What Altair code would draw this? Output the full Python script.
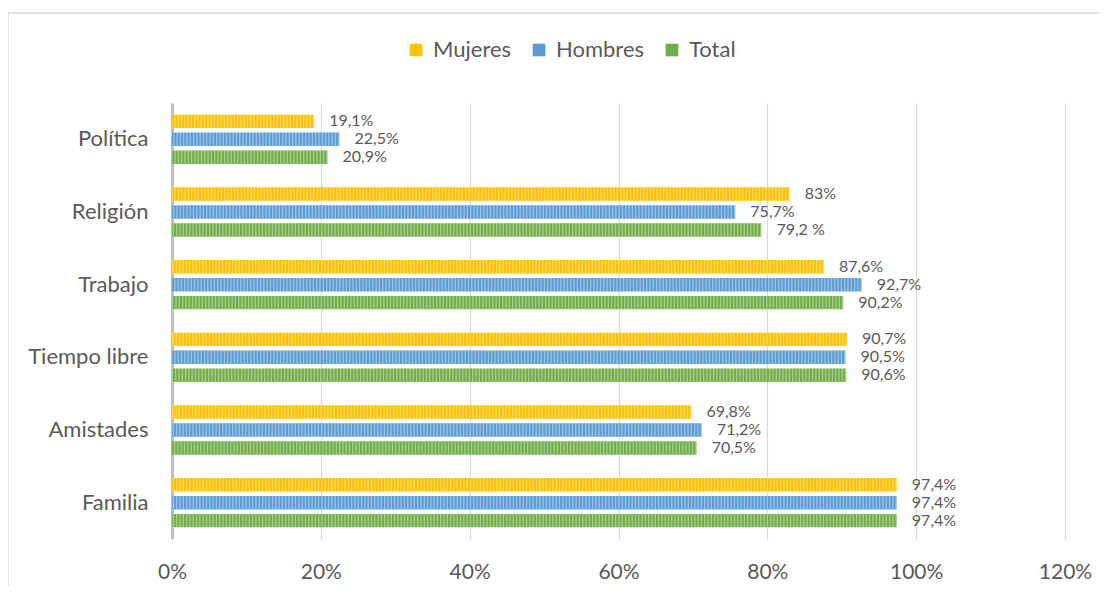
import altair as alt
import pandas as pd

categories = ["Política", "Religión", "Trabajo", "Tiempo libre", "Amistades", "Familia"]
series = ["Mujeres", "Hombres", "Total"]
mujeres = [19.1, 83.0, 87.6, 90.7, 69.8, 97.4]
hombres = [22.5, 75.7, 92.7, 90.5, 71.2, 97.4]
total = [20.9, 79.2, 90.2, 90.6, 70.5, 97.4]
lab_mujeres = ["19,1%", "83%", "87,6%", "90,7%", "69,8%", "97,4%"]
lab_hombres = ["22,5%", "75,7%", "92,7%", "90,5%", "71,2%", "97,4%"]
lab_total = ["20,9%", "79,2 %", "90,2%", "90,6%", "70,5%", "97,4%"]
x_ticks = [0, 20, 40, 60, 80, 100, 120]
colors = ["#FFC000", "#5B9BD5", "#70AD47"]

rows = []
for s, vals, labs in zip(series, [mujeres, hombres, total], [lab_mujeres, lab_hombres, lab_total]):
    for c, v, l in zip(categories, vals, labs):
        rows.append({"cat": c, "serie": s, "valor": v, "etiqueta": l})
df = pd.DataFrame(rows)

FONT = "Lato"
TXT = "#595959"

y_enc = alt.Y("cat:N", sort=categories, title=None,
              scale=alt.Scale(paddingInner=0.32, paddingOuter=0.16),
              axis=alt.Axis(domain=True, domainColor="#BFBFBF", domainWidth=3, ticks=False,
                            labelFontSize=22, labelColor=TXT, labelFont=FONT, labelPadding=24,
                            grid=False))
yoff = alt.YOffset("serie:N", sort=series, scale=alt.Scale(paddingInner=0.25))
x_enc = alt.X("valor:Q", title=None,
              scale=alt.Scale(domain=[0, 120], nice=False),
              axis=alt.Axis(values=x_ticks, labelExpr="datum.value + '%'", domain=False, ticks=False,
                            grid=True, gridColor="#D9D9D9", gridWidth=1.2, labelFlush=False,
                            labelFontSize=21, labelColor=TXT, labelFont=FONT, labelPadding=22))

base = alt.Chart(df)

bars = base.mark_bar(cornerRadius=0).encode(
    y=y_enc, yOffset=yoff, x=x_enc,
    color=alt.Color("serie:N", sort=series,
                    scale=alt.Scale(domain=series, range=colors),
                    legend=alt.Legend(title=None, orient="none", direction="horizontal",
                                      legendX=233, legendY=-64, symbolType="square",
                                      symbolSize=160, symbolStrokeWidth=0, labelFontSize=22,
                                      labelColor=TXT, labelFont=FONT, labelOffset=6,
                                      columnPadding=16)),
)

stripes = base.mark_rule(strokeDash=[1.3, 2.0], strokeCap="butt", strokeWidth=13.5,
                         color="white", opacity=0.4).encode(
    y=y_enc, yOffset=yoff, x=alt.X("valor:Q"), x2=alt.value(0),
)

texts = base.mark_text(align="left", baseline="middle", dx=15, fontSize=16,
                       font=FONT, color=TXT).encode(
    y=y_enc, yOffset=yoff, x="valor:Q", text="etiqueta:N",
)

frame = alt.Chart(pd.DataFrame({"k": [0]})).mark_rect(
    fill=None, stroke="#D9D9D9", strokeWidth=1.5
).encode(x=alt.value(-164), x2=alt.value(960), y=alt.value(-90), y2=alt.value(520))

chart = alt.layer(frame, bars, stripes, texts).properties(
    width=893, height=436,
    padding={"left": 164, "top": 95, "right": 34, "bottom": 47},
    autosize=alt.AutoSizeParams(type="none"),
    background="white",
).configure_view(stroke=None)

chart.save("out.html", embed_options={"renderer": "svg", "actions": False})
